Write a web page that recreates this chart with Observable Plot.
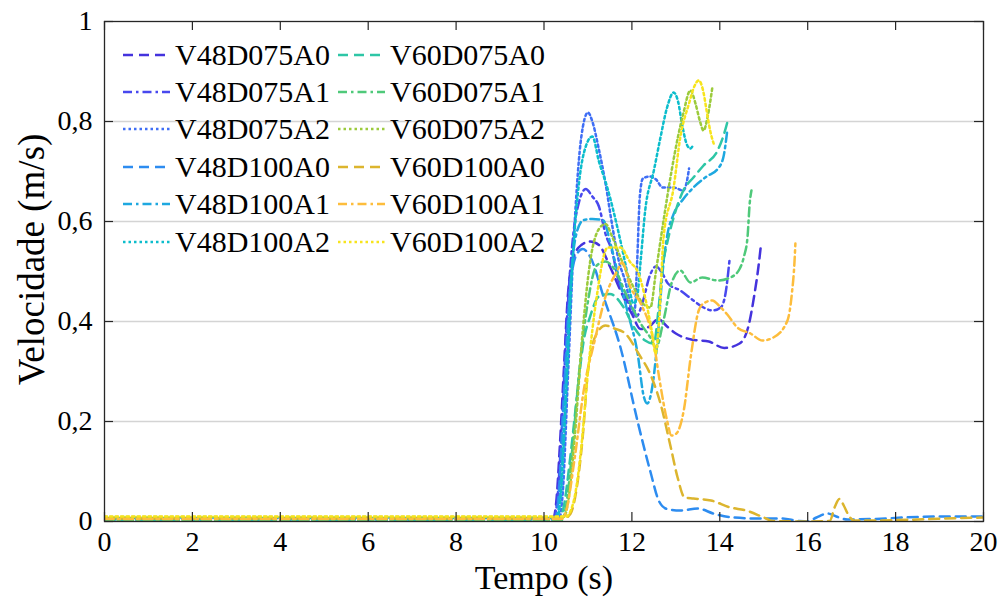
<!DOCTYPE html>
<html><head><meta charset="utf-8">
<script src="https://cdn.jsdelivr.net/npm/d3@7"></script>
<script src="https://cdn.jsdelivr.net/npm/@observablehq/plot@0.6"></script>
<style>
body{margin:0;background:#fff;}
#wrap{position:relative;width:1002px;height:608px;font-family:"Liberation Serif","Tinos","DejaVu Serif","Times New Roman",serif;color:#000;}
#legend{position:absolute;left:123px;top:36px;display:grid;grid-template-rows:repeat(6,37.4px);grid-auto-flow:column;column-gap:8px;}
.item{display:flex;align-items:center;font-size:30px;line-height:1;white-space:nowrap;}
.item svg{margin-right:5px;flex:none;}
</style></head><body><div id="wrap"></div>
<script>
const xTicks = [0,2,4,6,8,10,12,14,16,18,20];
const yTicks = [0,0.2,0.4,0.6,0.8,1];
const yTickLabels = ["0","0,2","0,4","0,6","0,8","1"];
const xLabel = "Tempo (s)";
const yLabel = "Velocidade (m/s)";

const seriesNames = ["V48D075A0","V48D075A1","V48D075A2","V48D100A0","V48D100A1","V48D100A2",
                     "V60D075A0","V60D075A1","V60D075A2","V60D100A0","V60D100A1","V60D100A2"];

// [tempo (s), velocidade (m/s)]
const V48D075A0 = [[0,0.004],[10.2,0.004],[10.28,0.04],[10.36,0.15],[10.45,0.3],[10.55,0.46],[10.68,0.53],[10.85,0.553],[11.05,0.56],[11.25,0.553],[11.5,0.51],[11.75,0.46],[12.0,0.415],[12.2,0.385],[12.4,0.39],[12.6,0.405],[12.8,0.39],[13.0,0.376],[13.35,0.364],[13.75,0.36],[14.1,0.347],[14.45,0.356],[14.65,0.39],[14.78,0.45],[14.88,0.51],[14.93,0.548]];
const V48D075A1 = [[0,0.005],[10.22,0.005],[10.3,0.04],[10.4,0.18],[10.52,0.4],[10.65,0.56],[10.8,0.64],[10.95,0.665],[11.1,0.65],[11.25,0.63],[11.4,0.575],[11.55,0.54],[11.7,0.48],[11.85,0.45],[12.0,0.425],[12.1,0.41],[12.25,0.44],[12.4,0.49],[12.55,0.51],[12.7,0.495],[12.82,0.476],[13.1,0.462],[13.4,0.442],[13.63,0.428],[13.84,0.422],[14.02,0.428],[14.13,0.456],[14.22,0.522]];
const V48D075A2 = [[0,0.007],[10.35,0.007],[10.42,0.05],[10.55,0.3],[10.7,0.6],[10.85,0.77],[11.0,0.818],[11.1,0.8],[11.24,0.748],[11.4,0.676],[11.56,0.588],[11.7,0.522],[11.85,0.48],[12.0,0.425],[12.06,0.42],[12.12,0.52],[12.18,0.65],[12.25,0.686],[12.4,0.69],[12.55,0.684],[12.7,0.668],[12.95,0.668],[13.17,0.662],[13.25,0.68],[13.3,0.706]];
const V48D100A0 = [[0,0.003],[10.25,0.003],[10.33,0.05],[10.45,0.25],[10.58,0.45],[10.72,0.53],[10.88,0.545],[11.06,0.528],[11.36,0.448],[11.74,0.348],[12.13,0.2],[12.42,0.1],[12.62,0.04],[12.8,0.025],[13.1,0.022],[13.5,0.026],[13.85,0.016],[14.3,0.008],[14.9,0.006],[15.4,0.006],[15.8,0.001],[16.0,0.0],[16.2,0.008],[16.45,0.016],[16.65,0.01],[16.9,0.004],[17.5,0.005],[18.2,0.008],[19.0,0.01],[20.0,0.01]];
const V48D100A1 = [[0,0.006],[10.28,0.006],[10.36,0.05],[10.48,0.25],[10.6,0.47],[10.75,0.58],[10.9,0.603],[11.1,0.605],[11.35,0.602],[11.5,0.56],[11.67,0.5],[11.9,0.42],[12.13,0.336],[12.27,0.25],[12.35,0.236],[12.45,0.262],[12.58,0.36],[12.7,0.5],[12.8,0.57],[12.95,0.615],[13.17,0.645],[13.4,0.668],[13.7,0.69],[13.95,0.705],[14.08,0.728],[14.17,0.782]];
const V48D100A2 = [[0,0.008],[10.3,0.008],[10.38,0.05],[10.5,0.25],[10.65,0.52],[10.8,0.68],[10.95,0.75],[11.1,0.77],[11.25,0.72],[11.44,0.668],[11.67,0.588],[11.85,0.516],[12.04,0.436],[12.12,0.45],[12.2,0.522],[12.3,0.62],[12.5,0.702],[12.65,0.768],[12.8,0.828],[12.95,0.858],[13.05,0.84],[13.15,0.79],[13.26,0.752],[13.33,0.746],[13.4,0.754]];
const V60D075A0 = [[0,0.004],[10.35,0.004],[10.45,0.03],[10.6,0.13],[10.75,0.25],[10.9,0.36],[11.05,0.41],[11.25,0.45],[11.5,0.455],[11.8,0.43],[12.05,0.388],[12.3,0.362],[12.5,0.356],[12.6,0.42],[12.7,0.51],[12.8,0.556],[12.95,0.608],[13.17,0.662],[13.4,0.688],[13.63,0.712],[13.95,0.742],[14.1,0.776],[14.2,0.808]];
const V60D075A1 = [[0,0.002],[10.4,0.002],[10.5,0.03],[10.65,0.15],[10.8,0.3],[11.0,0.44],[11.2,0.512],[11.4,0.52],[11.6,0.505],[11.9,0.448],[12.2,0.396],[12.42,0.368],[12.55,0.348],[12.72,0.402],[12.9,0.476],[13.1,0.502],[13.33,0.478],[13.6,0.488],[13.95,0.482],[14.24,0.488],[14.45,0.505],[14.55,0.53],[14.63,0.568],[14.68,0.636],[14.72,0.662]];
const V60D075A2 = [[0,0.009],[10.45,0.009],[10.55,0.04],[10.7,0.17],[10.88,0.38],[11.05,0.52],[11.25,0.585],[11.4,0.595],[11.55,0.57],[11.74,0.528],[12.04,0.468],[12.25,0.436],[12.42,0.428],[12.55,0.502],[12.72,0.602],[12.9,0.7],[13.05,0.77],[13.17,0.816],[13.33,0.862],[13.45,0.835],[13.55,0.8],[13.63,0.782],[13.72,0.808],[13.83,0.868]];
const V60D100A0 = [[0,0.006],[10.45,0.006],[10.6,0.015],[10.75,0.07],[10.88,0.168],[11.0,0.3],[11.2,0.376],[11.4,0.392],[11.6,0.386],[11.85,0.376],[12.15,0.336],[12.45,0.288],[12.65,0.236],[12.88,0.15],[13.04,0.088],[13.2,0.048],[13.4,0.046],[13.8,0.042],[14.24,0.028],[14.6,0.022],[15.0,0.008],[15.2,0.001],[16.0,0.0],[16.5,0.001],[16.62,0.03],[16.72,0.045],[16.82,0.032],[16.92,0.014],[17.05,0.002],[17.5,0.002],[18.5,0.004],[19.5,0.007],[20,0.008]];
const V60D100A1 = [[0,0.005],[10.4,0.005],[10.5,0.02],[10.7,0.128],[10.9,0.26],[11.17,0.368],[11.4,0.45],[11.67,0.502],[11.78,0.518],[11.97,0.468],[12.2,0.436],[12.5,0.356],[12.62,0.288],[12.8,0.202],[12.9,0.172],[13.0,0.175],[13.18,0.222],[13.34,0.33],[13.52,0.422],[13.63,0.436],[13.83,0.442],[14.0,0.43],[14.17,0.414],[14.4,0.388],[14.7,0.376],[14.97,0.362],[15.22,0.368],[15.54,0.402],[15.64,0.456],[15.7,0.52],[15.72,0.556]];
const V60D100A2 = [[0,0.01],[10.5,0.01],[10.6,0.02],[10.72,0.06],[10.85,0.15],[11.0,0.3],[11.2,0.45],[11.45,0.548],[11.74,0.548],[11.95,0.52],[12.15,0.496],[12.3,0.448],[12.45,0.382],[12.54,0.336],[12.62,0.402],[12.72,0.568],[12.95,0.668],[13.1,0.768],[13.3,0.836],[13.42,0.87],[13.52,0.882],[13.62,0.862],[13.7,0.822],[13.78,0.782],[13.86,0.756]];

const seriesValues = [V48D075A0,V48D075A1,V48D075A2,V48D100A0,V48D100A1,V48D100A2,
                      V60D075A0,V60D075A1,V60D075A2,V60D100A0,V60D100A1,V60D100A2];

// styles
const colors = ["#4433dd","#4848ee","#3f6ef5","#2d8cf0","#1ea8e0","#0cbdcc",
                "#2ec6a6","#4fc97a","#9ccb3c","#dcb52e","#fdbd3c","#f7e41c"];
const dashKinds = ["10,6","9,4,2.5,4","2.5,3"];
const dashOf = i => dashKinds[i % 3];

const FONT = '"Liberation Serif","Tinos","DejaVu Serif","Times New Roman",serif';
const W = 1002, H = 608;
const M = {left:104, right:19, top:21, bottom:87};
const innerW = W - M.left - M.right, innerH = H - M.top - M.bottom;
const TICK = 9;

const lineMarks = seriesValues.map((vals, i) =>
  Plot.line(vals.map(([t, v]) => ({t, v, s: seriesNames[i]})), {
    x: "t", y: "v", stroke: colors[i], strokeWidth: 2.5,
    strokeDasharray: dashOf(i), curve: "monotone-x", clip: true
  })
);

const chart = Plot.plot({
  width: W, height: H,
  marginLeft: M.left, marginRight: M.right, marginTop: M.top, marginBottom: M.bottom,
  style: {fontFamily: FONT, color: "#000", background: "#fff", overflow: "visible"},
  x: {domain: [0, 20]},
  y: {domain: [0, 1]},
  marks: [
    Plot.ruleY(yTicks.filter(v => v > 0 && v < 1), {stroke: "#d4d4d4", strokeWidth: 1.3}),
    ...lineMarks,
    Plot.frame({stroke: "#262626", strokeWidth: 1.3}),
    Plot.tickX(xTicks, {x: d => d, insetTop: innerH - TICK, stroke: "#262626", strokeWidth: 1.2}),
    Plot.tickX(xTicks, {x: d => d, insetBottom: innerH - TICK, stroke: "#262626", strokeWidth: 1.2}),
    Plot.tickY(yTicks, {y: d => d, insetRight: innerW - TICK, stroke: "#262626", strokeWidth: 1.2}),
    Plot.tickY(yTicks, {y: d => d, insetLeft: innerW - TICK, stroke: "#262626", strokeWidth: 1.2}),
    Plot.axisX({ticks: xTicks, tickSize: 0, tickPadding: 10, fontSize: 28, fontFamily: FONT, label: null, tickFormat: d => String(d)}),
    Plot.axisY({ticks: yTicks, tickSize: 0, tickPadding: 12, fontSize: 28, fontFamily: FONT, label: null, tickFormat: d => yTickLabels[yTicks.indexOf(d)]}),
    Plot.text([xLabel], {frameAnchor: "bottom", dy: 67, fontSize: 34, fontFamily: FONT, fill: "#000"}),
    Plot.text([yLabel], {frameAnchor: "left", textAnchor: "middle", dx: -72, dy: -12, rotate: -90, fontSize: 37, fontFamily: FONT, fill: "#000"})
  ]
});

const wrap = document.getElementById("wrap");
wrap.appendChild(chart);

// legend overlay (inside the axes, top-left, no box)
const legend = document.createElement("div");
legend.id = "legend";
seriesNames.forEach((name, i) => {
  const item = document.createElement("div");
  item.className = "item";
  const ns = "http://www.w3.org/2000/svg";
  const sw = document.createElementNS(ns, "svg");
  sw.setAttribute("width", 47); sw.setAttribute("height", 10);
  const ln = document.createElementNS(ns, "line");
  ln.setAttribute("x1", 0); ln.setAttribute("x2", 47);
  ln.setAttribute("y1", 5); ln.setAttribute("y2", 5);
  ln.setAttribute("stroke", colors[i]); ln.setAttribute("stroke-width", 2.5);
  ln.setAttribute("stroke-dasharray", dashOf(i));
  sw.appendChild(ln);
  item.appendChild(sw);
  const tx = document.createElement("span");
  tx.textContent = name;
  item.appendChild(tx);
  legend.appendChild(item);
});
wrap.appendChild(legend);
</script>
</body></html>
